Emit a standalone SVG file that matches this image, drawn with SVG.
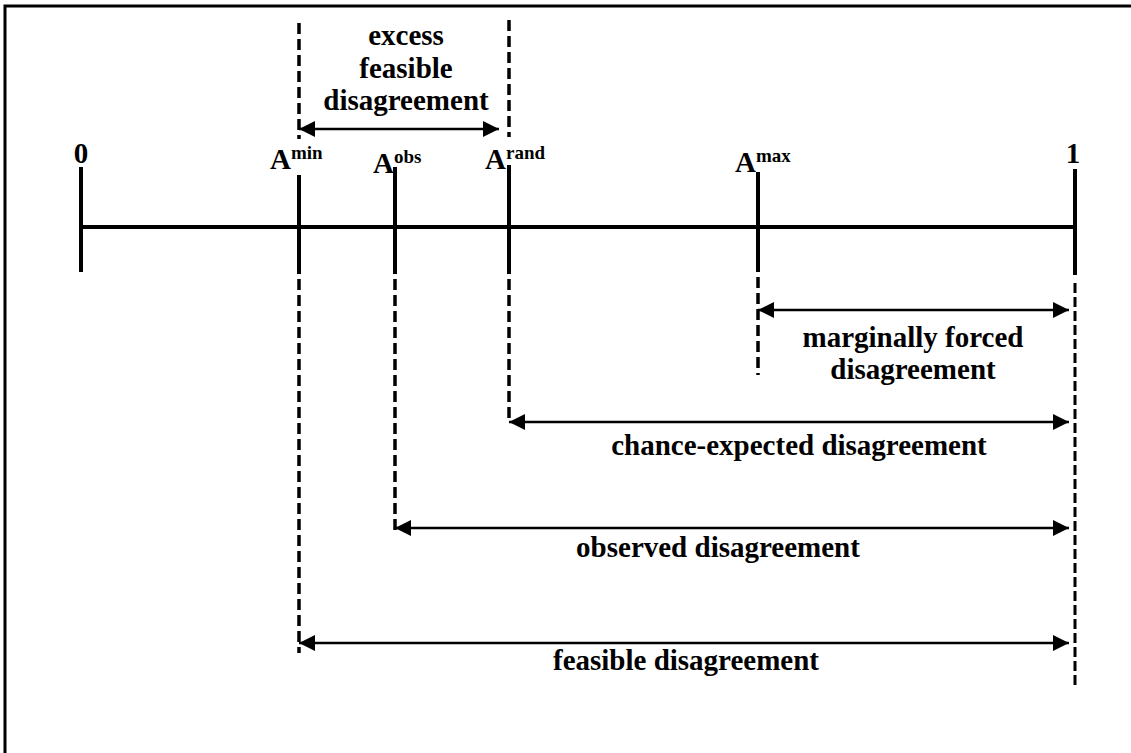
<svg xmlns="http://www.w3.org/2000/svg" width="1131" height="753" viewBox="0 0 1131 753">
<style>
text{font-family:"Liberation Serif","Times New Roman",serif;font-weight:bold;fill:#000;font-size:29px}
.lbl{text-anchor:middle}
.sup{font-size:19px}
.axis{stroke:#000;stroke-width:4;fill:none}
.tick{stroke:#000;stroke-width:4;fill:none}
.dash{stroke:#000;stroke-width:3.5;stroke-dasharray:11 5;fill:none}
.dash2{stroke:#000;stroke-width:3;stroke-dasharray:10 4;fill:none}
.arr{stroke:#000;stroke-width:2.5;fill:none;marker-start:url(#ah);marker-end:url(#ah)}
</style>
<defs>
<marker id="ah" viewBox="0 0 16 16" refX="16" refY="8" markerWidth="16" markerHeight="16" markerUnits="userSpaceOnUse" orient="auto-start-reverse">
<path d="M0,0 L16,8 L0,16 Z" fill="#000"/>
</marker>
</defs>
<rect x="0" y="0" width="1131" height="753" fill="#fff"/>
<path d="M5,753 V6 H1131" fill="none" stroke="#000" stroke-width="3"/>
<g id="axis">
<line class="axis" x1="81" y1="227" x2="1075" y2="227"/>
</g>
<g id="tick-0">
<line class="tick" x1="81" y1="167" x2="81" y2="272"/>
<text class="lbl" x="81" y="163">0</text>
</g>
<g id="tick-amin">
<line class="dash" x1="299" y1="23" x2="299" y2="139"/>
<line class="tick" x1="299" y1="175" x2="299" y2="274"/>
<line class="dash" x1="299" y1="279" x2="299" y2="653"/>
<text x="270" y="169">A<tspan class="sup" dy="-10">min</tspan></text>
</g>
<g id="tick-aobs">
<line class="tick" x1="395" y1="167" x2="395" y2="274"/>
<line class="dash" x1="395" y1="279" x2="395" y2="530"/>
<text x="373" y="173">A<tspan class="sup" dy="-10">obs</tspan></text>
</g>
<g id="tick-arand">
<line class="dash" x1="509" y1="20" x2="509" y2="137"/>
<line class="tick" x1="509" y1="165" x2="509" y2="274"/>
<line class="dash" x1="509" y1="279" x2="509" y2="420"/>
<text x="485" y="169">A<tspan class="sup" dy="-10">rand</tspan></text>
</g>
<g id="tick-amax">
<line class="tick" x1="758" y1="172" x2="758" y2="272"/>
<line class="dash" x1="758" y1="277" x2="758" y2="375"/>
<text x="735" y="172">A<tspan class="sup" dy="-10">max</tspan></text>
</g>
<g id="tick-1">
<line class="tick" x1="1075" y1="169" x2="1075" y2="275"/>
<line class="dash2" x1="1075" y1="283" x2="1075" y2="688"/>
<text class="lbl" x="1073" y="163">1</text>
</g>
<g id="connectors">
<line class="arr" x1="299" y1="129" x2="499" y2="129"/>
<line class="arr" x1="758" y1="310" x2="1069" y2="310"/>
<line class="arr" x1="509" y1="422" x2="1069" y2="422"/>
<line class="arr" x1="395" y1="528" x2="1069" y2="528"/>
<line class="arr" x1="299" y1="643" x2="1069" y2="643"/>
</g>
<g id="labels">
<text class="lbl" x="406" y="45">excess</text>
<text class="lbl" x="406" y="78">feasible</text>
<text class="lbl" x="406" y="110">disagreement</text>
<text class="lbl" x="913" y="347">marginally forced</text>
<text class="lbl" x="913" y="379">disagreement</text>
<text class="lbl" x="799" y="455">chance-expected disagreement</text>
<text class="lbl" x="718" y="557">observed disagreement</text>
<text class="lbl" x="686" y="670">feasible disagreement</text>
</g>
</svg>
